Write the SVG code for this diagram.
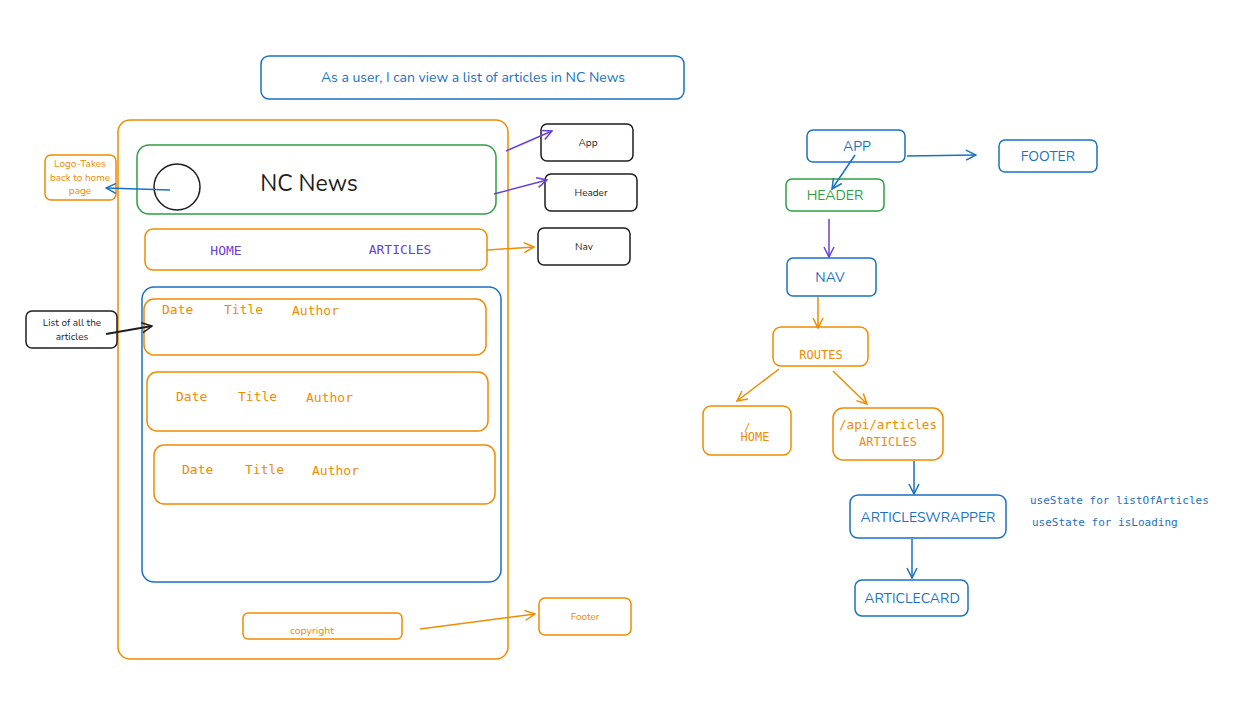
<svg xmlns="http://www.w3.org/2000/svg" width="1252" height="708" viewBox="0 0 1252 708">
<defs>
<style>
.o{fill:none;stroke:#f08c00;stroke-width:1.5}
.b{fill:none;stroke:#1971c2;stroke-width:1.5}
.g{fill:none;stroke:#2f9e44;stroke-width:1.5}
.k{fill:none;stroke:#1e1e1e;stroke-width:1.5}
.sans{font-family:"Nunito","Noto Sans","Open Sans",sans-serif}
.mono{font-family:"DejaVu Sans Mono","Liberation Mono",monospace}
.tc{text-anchor:middle}
.fo{fill:#f08c00}.fb{fill:#1971c2}.fg{fill:#2f9e44}.fp{fill:#6741d9}.fk{fill:#1e1e1e}
.ao{stroke:#f08c00;stroke-width:1.5;fill:none}
.ab{stroke:#1971c2;stroke-width:1.5;fill:none}
.ap{stroke:#6741d9;stroke-width:1.5;fill:none}
.ak{stroke:#1e1e1e;stroke-width:2;fill:none}
</style>
<marker id="mo" viewBox="0 0 12 12" refX="11" refY="6" markerWidth="12" markerHeight="12" markerUnits="userSpaceOnUse" orient="auto"><path d="M1 1 L11 6 L1 11" fill="none" stroke="#f08c00" stroke-width="1.5"/></marker>
<marker id="mb" viewBox="0 0 12 12" refX="11" refY="6" markerWidth="12" markerHeight="12" markerUnits="userSpaceOnUse" orient="auto"><path d="M1 1 L11 6 L1 11" fill="none" stroke="#1971c2" stroke-width="1.5"/></marker>
<marker id="mp" viewBox="0 0 12 12" refX="11" refY="6" markerWidth="12" markerHeight="12" markerUnits="userSpaceOnUse" orient="auto"><path d="M1 1 L11 6 L1 11" fill="none" stroke="#6741d9" stroke-width="1.5"/></marker>
<marker id="mk" viewBox="0 0 12 12" refX="11" refY="6" markerWidth="12" markerHeight="12" markerUnits="userSpaceOnUse" orient="auto"><path d="M1 1 L11 6 L1 11" fill="none" stroke="#1e1e1e" stroke-width="1.5"/></marker>
</defs>
<rect width="1252" height="708" fill="#ffffff"/>

<g id="story">
<rect class="b" x="261" y="56" width="423" height="43" rx="8"/>
<text class="sans tc fb" x="473" y="82" font-size="14">As a user, I can view a list of articles in NC News</text>
</g>

<g id="page">
<rect class="o" x="118" y="120" width="390" height="539" rx="12"/>
</g>

<g id="header-mock">
<rect class="g" x="137" y="145" width="359" height="69" rx="12"/>
<circle class="k" cx="177" cy="187" r="23"/>
<text class="sans tc fk" x="309" y="191" font-size="23">NC News</text>
</g>

<g id="nav-mock">
<rect class="o" x="145" y="229" width="342" height="41" rx="8"/>
<text class="mono tc fp" x="226" y="255" font-size="13">HOME</text>
<text class="mono tc fp" x="400" y="254" font-size="13">ARTICLES</text>
</g>

<g id="list-mock">
<rect class="b" x="142" y="287" width="359" height="295" rx="12"/>
</g>

<g id="card1">
<rect class="o" x="144" y="299" width="342" height="56" rx="10"/>
<text class="mono fo" x="162" y="314" font-size="13">Date</text>
<text class="mono fo" x="224" y="314" font-size="13">Title</text>
<text class="mono fo" x="292" y="315" font-size="13">Author</text>
</g>
<g id="card2">
<rect class="o" x="147" y="372" width="341" height="59" rx="10"/>
<text class="mono fo" x="176" y="401" font-size="13">Date</text>
<text class="mono fo" x="238" y="401" font-size="13">Title</text>
<text class="mono fo" x="306" y="402" font-size="13">Author</text>
</g>
<g id="card3">
<rect class="o" x="154" y="445" width="341" height="59" rx="10"/>
<text class="mono fo" x="182" y="474" font-size="13">Date</text>
<text class="mono fo" x="245" y="474" font-size="13">Title</text>
<text class="mono fo" x="312" y="475" font-size="13">Author</text>
</g>

<g id="copyright">
<rect class="o" x="243" y="613" width="159" height="26" rx="5"/>
<text class="sans tc fo" x="312" y="634" font-size="10.5">copyright</text>
</g>

<g id="label-app">
<rect class="k" x="541" y="124" width="92" height="37" rx="6"/>
<text class="sans tc fk" x="588" y="146" font-size="10">App</text>
</g>
<g id="label-header">
<rect class="k" x="545" y="174" width="92" height="37" rx="6"/>
<text class="sans tc fk" x="591" y="196" font-size="10">Header</text>
</g>
<g id="label-nav">
<rect class="k" x="538" y="228" width="92" height="37" rx="6"/>
<text class="sans tc fk" x="584" y="250" font-size="10">Nav</text>
</g>
<g id="label-footer">
<rect class="o" x="539" y="598" width="92" height="37" rx="6"/>
<text class="sans tc fo" x="585" y="620" font-size="10">Footer</text>
</g>
<g id="label-logo">
<rect class="o" x="45" y="155" width="71" height="45" rx="6"/>
<text class="sans tc fo" x="80" y="167" font-size="10">Logo-Takes</text>
<text class="sans tc fo" x="80" y="181" font-size="10">back to home</text>
<text class="sans tc fo" x="80" y="194" font-size="10">page</text>
</g>
<g id="label-list">
<rect class="k" x="26" y="311" width="91" height="37" rx="6"/>
<text class="sans tc fk" x="72" y="326" font-size="10">List of all the</text>
<text class="sans tc fk" x="72" y="340" font-size="10">articles</text>
</g>

<g id="APP">
<rect class="b" x="807" y="130" width="98" height="32" rx="6"/>
<text class="sans tc fb" x="857" y="151" font-size="14">APP</text>
</g>
<g id="FOOTER">
<rect class="b" x="999" y="140" width="98" height="32" rx="6"/>
<text class="sans tc fb" x="1048" y="161" font-size="14">FOOTER</text>
</g>
<g id="HEADER">
<rect class="g" x="786" y="179" width="98" height="32" rx="6"/>
<text class="sans tc fg" x="835" y="200" font-size="14">HEADER</text>
</g>
<g id="NAV">
<rect class="b" x="787" y="258" width="89" height="38" rx="6"/>
<text class="sans tc fb" x="830" y="282" font-size="14">NAV</text>
</g>
<g id="ROUTES">
<rect class="o" x="773" y="327" width="95" height="39" rx="8"/>
<text class="mono tc fo" x="821" y="359" font-size="12">ROUTES</text>
</g>
<g id="HOME">
<rect class="o" x="703" y="406" width="88" height="49" rx="8"/>
<text class="mono tc fo" x="755" y="441" font-size="12">HOME</text>
<path d="M745 432 L749 423" stroke="#f08c00" stroke-width="1" fill="none"/>
</g>
<g id="ARTICLES">
<rect class="o" x="833" y="408" width="110" height="52" rx="10"/>
<text class="mono tc fo" x="888" y="429" font-size="12.5">/api/articles</text>
<text class="mono tc fo" x="888" y="446" font-size="12">ARTICLES</text>
</g>
<g id="ARTICLESWRAPPER">
<rect class="b" x="850" y="495" width="156" height="43" rx="8"/>
<text class="sans tc fb" x="928" y="522" font-size="14">ARTICLESWRAPPER</text>
</g>
<g id="ARTICLECARD">
<rect class="b" x="855" y="580" width="113" height="36" rx="7"/>
<text class="sans tc fb" x="912" y="603" font-size="14">ARTICLECARD</text>
</g>
<g id="notes">
<text class="mono fb" x="1030" y="504" font-size="11">useState for listOfArticles</text>
<text class="mono fb" x="1032" y="526" font-size="11">useState for isLoading</text>
</g>

<g id="connectors">
<path class="ap" d="M506 151 L552 131" marker-end="url(#mp)"/>
<path class="ap" d="M494 194 L547 180" marker-end="url(#mp)"/>
<path class="ao" d="M487 250 L534 247" marker-end="url(#mo)"/>
<path class="ao" d="M420 629 L535 614" marker-end="url(#mo)"/>
<path class="ab" d="M170 190 L106 188" marker-end="url(#mb)"/>
<path class="ak" d="M106 334 L152 326" marker-end="url(#mk)"/>
<path class="ab" d="M907 156 L976 155" marker-end="url(#mb)"/>
<path class="ab" d="M855 155 L832 189" marker-end="url(#mb)"/>
<path class="ap" d="M829 219 L829 257" marker-end="url(#mp)"/>
<path class="ao" d="M818 297 L818 328" marker-end="url(#mo)"/>
<path class="ao" d="M779 369 L737 401" marker-end="url(#mo)"/>
<path class="ao" d="M833 371 L867 404" marker-end="url(#mo)"/>
<path class="ab" d="M914 461 L914 494" marker-end="url(#mb)"/>
<path class="ab" d="M912 539 L912 578" marker-end="url(#mb)"/>
</g>
</svg>
